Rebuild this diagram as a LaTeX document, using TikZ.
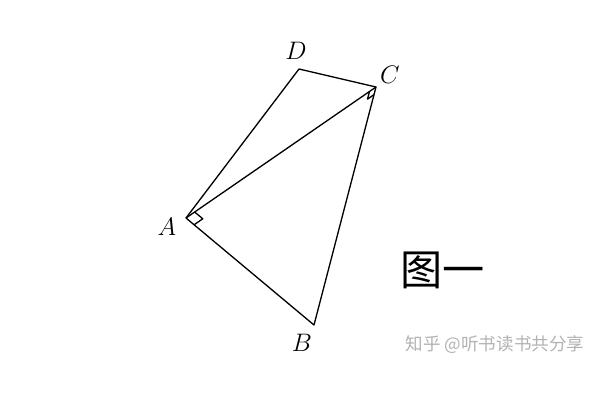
\documentclass[tikz,border=0pt]{standalone}
\usepackage{fontspec}
\newfontfamily\cjkfont{Noto Sans CJK SC}
\usetikzlibrary{calc}

\begin{document}
\begin{tikzpicture}[
x = 0.02cm, y = -0.02cm, % one unit = one pixel of the figure
line width = 0.75pt, % thin lines
line join = round
]

\tikzstyle{ptname}=[
inner sep = 0pt,
font = \fontsize{14}{14}\selectfont
]

\tikzstyle{caption}=[
font = \cjkfont\fontsize{24}{24}\selectfont
]

\tikzstyle{watermark}=[
font = \cjkfont\fontsize{10}{12}\selectfont,
text = black!30
]

\useasboundingbox (0,0) rectangle (600,400);

\coordinate (A) at (186,218);
\coordinate (B) at (314,325);
\coordinate (C) at (376,87);
\coordinate (D) at (299,69);

\node[ptname] (a) at (167,227) {$A$};
\node[ptname] (b) at (302,343) {$B$};
\node[ptname] (c) at (390,75) {$C$};
\node[ptname] (d) at (296,51) {$D$};

\draw (A) -- (D) -- (C) -- (B) -- cycle;
\draw (A) -- (C);

% right angle at A
\coordinate (ac) at ($(A)!6pt!(C)$);
\coordinate (ab) at ($(A)!6pt!(B)$);
\draw (ac) -- ($(ac)+(ab)-(A)$) -- (ab);

% right angle at C
\coordinate (ca) at ($(C)!4.5pt!(A)$);
\coordinate (cb) at ($(C)!4.5pt!(B)$);
\draw (ca) -- ($(ca)+(cb)-(C)$) -- (cb);

\node[caption] (fig) at (443,270) {图一};
\node[watermark] (wm) at (495,345) {知乎 @听书读书共分享};

\end{tikzpicture}
\end{document}
